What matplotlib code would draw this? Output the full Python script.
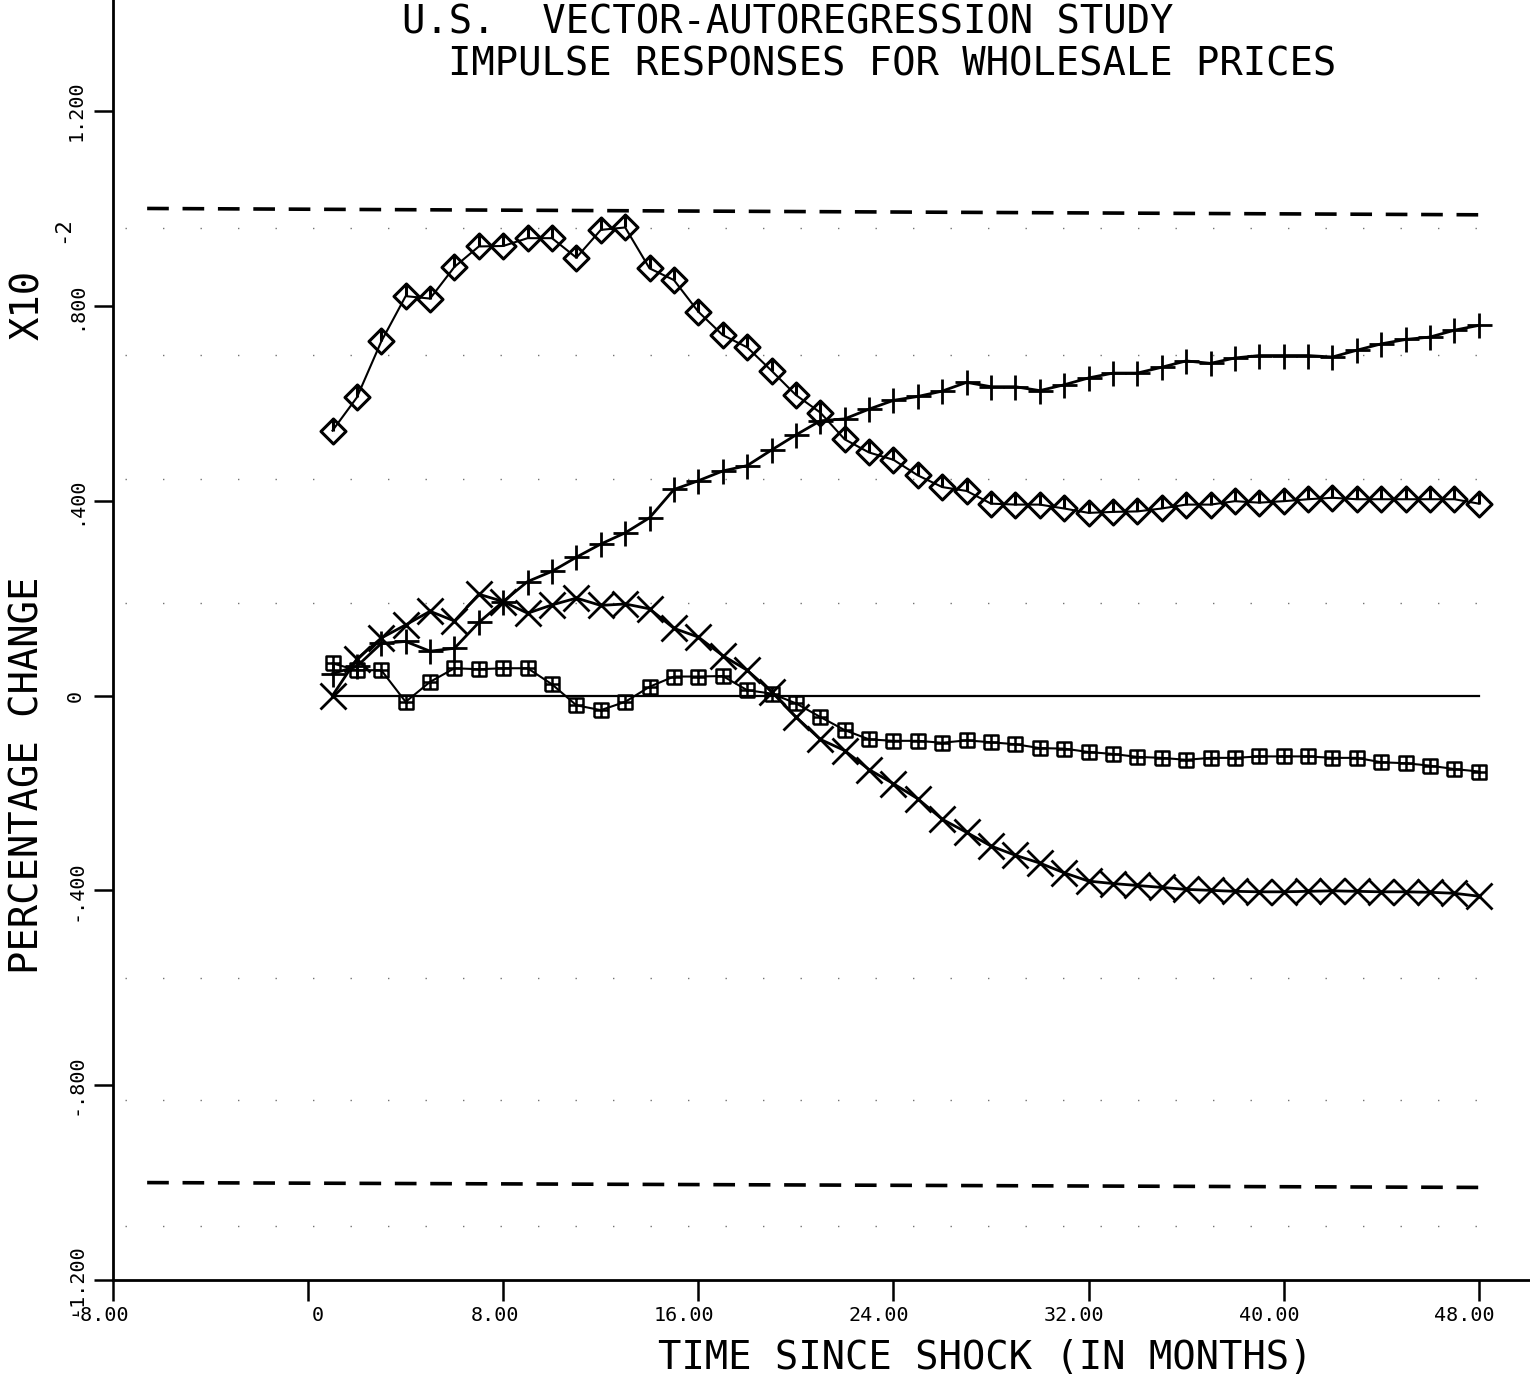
import matplotlib
matplotlib.use('Agg')
import matplotlib.pyplot as plt
import matplotlib.transforms as mtransforms
from matplotlib.path import Path
import numpy as np

months = np.arange(1, 49)

# impulse responses of wholesale prices (x10^-2 percent), months 1..48
diamond_resp = [0.544, 0.612, 0.727, 0.820, 0.815, 0.880, 0.922, 0.923, 0.939, 0.939,
                0.899, 0.956, 0.961, 0.877, 0.853, 0.788, 0.740, 0.715, 0.667, 0.617,
                0.581, 0.526, 0.499, 0.484, 0.452, 0.428, 0.420, 0.394, 0.392, 0.392,
                0.384, 0.375, 0.377, 0.378, 0.384, 0.392, 0.392, 0.399, 0.396, 0.399,
                0.403, 0.406, 0.403, 0.403, 0.403, 0.403, 0.403, 0.394]
plus_resp = [0.045, 0.060, 0.107, 0.111, 0.091, 0.097, 0.150, 0.193, 0.234, 0.255,
             0.284, 0.311, 0.334, 0.365, 0.423, 0.441, 0.461, 0.472, 0.504, 0.535,
             0.564, 0.568, 0.588, 0.606, 0.614, 0.625, 0.643, 0.634, 0.634, 0.626,
             0.638, 0.652, 0.662, 0.662, 0.674, 0.687, 0.682, 0.693, 0.698, 0.698,
             0.698, 0.695, 0.709, 0.722, 0.731, 0.736, 0.750, 0.760]
cross_resp = [0.000, 0.075, 0.118, 0.145, 0.173, 0.153, 0.208, 0.193, 0.169, 0.186,
              0.200, 0.185, 0.188, 0.178, 0.138, 0.120, 0.082, 0.052, 0.008, -0.044,
              -0.090, -0.113, -0.152, -0.181, -0.212, -0.254, -0.281, -0.309, -0.328, -0.344,
              -0.364, -0.381, -0.386, -0.390, -0.394, -0.398, -0.400, -0.402, -0.403, -0.403,
              -0.402, -0.401, -0.402, -0.403, -0.403, -0.404, -0.406, -0.412]
square_resp = [0.066, 0.052, 0.052, -0.013, 0.028, 0.056, 0.054, 0.056, 0.056, 0.023,
               -0.020, -0.030, -0.013, 0.018, 0.039, 0.039, 0.040, 0.011, 0.004, -0.016,
               -0.044, -0.071, -0.090, -0.093, -0.093, -0.097, -0.092, -0.096, -0.100, -0.108,
               -0.109, -0.116, -0.120, -0.126, -0.128, -0.132, -0.128, -0.128, -0.125, -0.125,
               -0.125, -0.128, -0.128, -0.137, -0.139, -0.144, -0.151, -0.156]
zero_resp = [0.0] * 48

# error bands
band_x = [-6.6, 48.0]
band_upper = [1.0, 0.987]
band_lower = [-1.0, -1.01]

x_ticks = [-8, 0, 8, 16, 24, 32, 40, 48]
x_ticklabels = ['-8.00', '0', '8.00', '16.00', '24.00', '32.00', '40.00', '48.00']
y_ticks = [-1.2, -0.8, -0.4, 0, 0.4, 0.8, 1.2]
y_ticklabels = ['-1.200', '-.800', '-.400', '0', '.400', '.800', '1.200']
dot_rows = [0.96, 0.70, 0.445, 0.19, -0.58, -0.83, -1.09]

plt.rcParams['font.family'] = ['DejaVu Sans Mono']

W, H = 1530, 1382
fig = plt.figure(figsize=(W / 100, H / 100), dpi=100)
ax = fig.add_axes([113 / W, 102 / H, 1 - 113 / W, 1 - 102 / H])

# plotter-style markers: diamond with the pen stroke from the centre, boxed plus
M, L = Path.MOVETO, Path.LINETO
diamond_mk = Path([(0, 0), (0, 1), (1, 0), (0, -1), (-1, 0), (0, 1)],
                  [M, L, L, L, L, L])
box_mk = Path([(-1, -1), (1, -1), (1, 1), (-1, 1), (-1, -1),
               (0, -1), (0, 1), (-1, 0), (1, 0)],
              [M, L, L, L, L, M, L, M, L])

for lev in dot_rows:
    ax.plot([-7.5, 48], [lev, lev], color='0.45', lw=1.0,
            dashes=(1, 26), zorder=1)

ax.plot(band_x, band_upper, color='k', lw=2.6, dashes=(6, 3.8))
ax.plot([band_x[0], 48.4], band_lower, color='k', lw=2.6, dashes=(6, 3.8))
ax.plot(months, zero_resp, color='k', lw=1.6)

ax.plot(months, diamond_resp, color='k', lw=1.5, marker=diamond_mk, ms=18,
        mfc='none', mec='k', mew=2.2)
ax.plot(months, plus_resp, color='k', lw=2.0, marker='+', ms=18, mew=2.0)
ax.plot(months, cross_resp, color='k', lw=2.0, marker='x', ms=19, mew=2.0)
ax.plot(months, square_resp, color='k', lw=1.5, marker=box_mk, ms=10,
        mfc='none', mec='k', mew=1.8)

ax.set_xlim(-8, 50.1)
ax.set_ylim(-1.2, 1.428)
for side in ['top', 'right']:
    ax.spines[side].set_visible(False)
for side in ['left', 'bottom']:
    ax.spines[side].set_linewidth(2.0)

ax.set_xticks(x_ticks)
ax.set_xticklabels(x_ticklabels)
ax.set_yticks(y_ticks)
ax.set_yticklabels(y_ticklabels, rotation=90, va='center')
ax.tick_params(axis='x', direction='out', length=15, width=1.8, pad=4, labelsize=14.5)
ax.tick_params(axis='y', direction='out', length=14, width=1.8, pad=6, labelsize=14.5)

# x labels sit right-aligned just past their tick
offset = mtransforms.ScaledTranslation(16 / 100, 0, fig.dpi_scale_trans)
for lab in ax.xaxis.get_majorticklabels():
    lab.set_horizontalalignment('right')
    lab.set_transform(lab.get_transform() + offset)

fig.text(402 / W, 1 - 22 / H, 'U.S.  VECTOR-AUTOREGRESSION STUDY',
         ha='left', va='center', fontsize=28)
fig.text(448 / W, 1 - 65 / H, 'IMPULSE RESPONSES FOR WHOLESALE PRICES',
         ha='left', va='center', fontsize=28)
fig.text(985 / W, 1 - 1358 / H, 'TIME SINCE SHOCK (IN MONTHS)',
         ha='center', va='center', fontsize=28)
fig.text(28 / W, 1 - 775 / H, 'PERCENTAGE CHANGE', rotation=90,
         ha='center', va='center', fontsize=28)
fig.text(28 / W, 1 - 305 / H, 'X10', rotation=90,
         ha='center', va='center', fontsize=28)
fig.text(62 / W, 1 - 230 / H, '-2', rotation=90,
         ha='center', va='center', fontsize=16)

fig.savefig('out.png', dpi=100)
